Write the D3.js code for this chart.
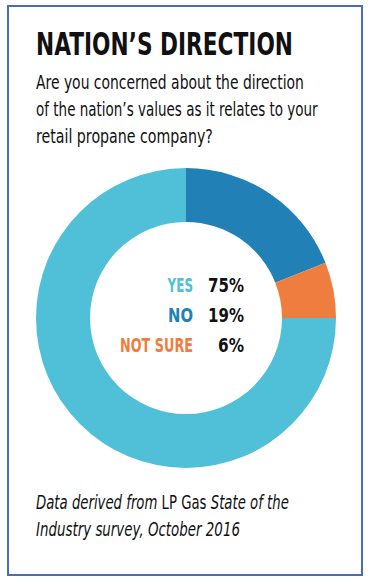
<!DOCTYPE html>
<html>
<head>
<meta charset="utf-8">
<script src="https://cdn.jsdelivr.net/npm/d3@7"></script>
<style>
  html, body { margin: 0; padding: 0; background: #fff; }
  svg { display: block; }
  text { font-family: "DejaVu Sans", sans-serif; }
</style>
</head>
<body>
<div id="chart"></div>
<script>
// answers, in drawing order starting from 12 o'clock
const categories = ["NO", "NOT SURE", "YES"];
const values = [19, 6, 75];
const colors = ["#2181b6", "#ef7d40", "#50bfd8"];
// legend order as printed in the hole
const legendOrder = ["YES", "NO", "NOT SURE"];

const width = 370, height = 584;
const svg = d3.select("#chart").append("svg")
  .attr("width", width).attr("height", height);

// the original is set in a condensed face: squeeze each line to its width
function place(t, x, y, w) {
  const bw = t.node().getBBox().width;
  const k = w / bw;
  t.attr("transform", `translate(${x},${y}) scale(${k},1)`);
  return t;
}

svg.append("rect")
  .attr("x", 8).attr("y", 6)
  .attr("width", 354).attr("height", 569)
  .attr("fill", "none").attr("stroke", "#4a6cb5").attr("stroke-width", 2);

place(svg.append("text")
  .attr("font-size", 32).attr("font-weight", "bold")
  .attr("fill", "#111")
  .text("NATION\u2019S DIRECTION"), 36, 55, 257);

const question = ["Are you concerned about the direction",
  "of the nation\u2019s values as it relates to your",
  "retail propane company?"];
const qWidths = [268, 282, 177];
question.forEach((q, i) => {
  place(svg.append("text").attr("font-size", 19).attr("fill", "#111").text(q),
    36, 89 + i * 27, qWidths[i]);
});

// donut
const cx = 186, cy = 318;
const pie = d3.pie().sort(null).value(d => d.v);
const arc = d3.arc().innerRadius(96).outerRadius(150);
const slices = pie(categories.map((c, i) => ({c, v: values[i], col: colors[i]})));
svg.append("g").attr("transform", `translate(${cx},${cy})`)
  .selectAll("path").data(slices).join("path")
  .attr("d", arc).attr("fill", d => d.data.col);

// legend inside the hole
const y = d3.scalePoint().domain(legendOrder).range([292, 352]);
const labelW = {"YES": 26, "NO": 25, "NOT SURE": 73};
legendOrder.forEach(name => {
  const i = categories.indexOf(name);
  place(svg.append("text").attr("font-size", 20).attr("font-weight", "bold")
    .attr("text-anchor", "end").attr("fill", colors[i]).text(name),
    193, y(name), labelW[name]);
  const v = svg.append("text").attr("font-size", 20).attr("font-weight", "bold")
    .attr("text-anchor", "end").attr("fill", "#111").text(values[i] + "%");
  place(v, 244, y(name), values[i] >= 10 ? 36 : 26);
});

// source note
const l1 = svg.append("text").attr("font-size", 19).attr("fill", "#111");
l1.append("tspan").attr("font-style", "italic").text("Data derived from ");
l1.append("tspan").text("LP Gas ");
l1.append("tspan").attr("font-style", "italic").text("State of the");
place(l1, 36, 509, 253);
place(svg.append("text").attr("font-size", 19).attr("fill", "#111")
  .attr("font-style", "italic").text("Industry survey, October 2016"), 36, 536, 204);
</script>
</body>
</html>
